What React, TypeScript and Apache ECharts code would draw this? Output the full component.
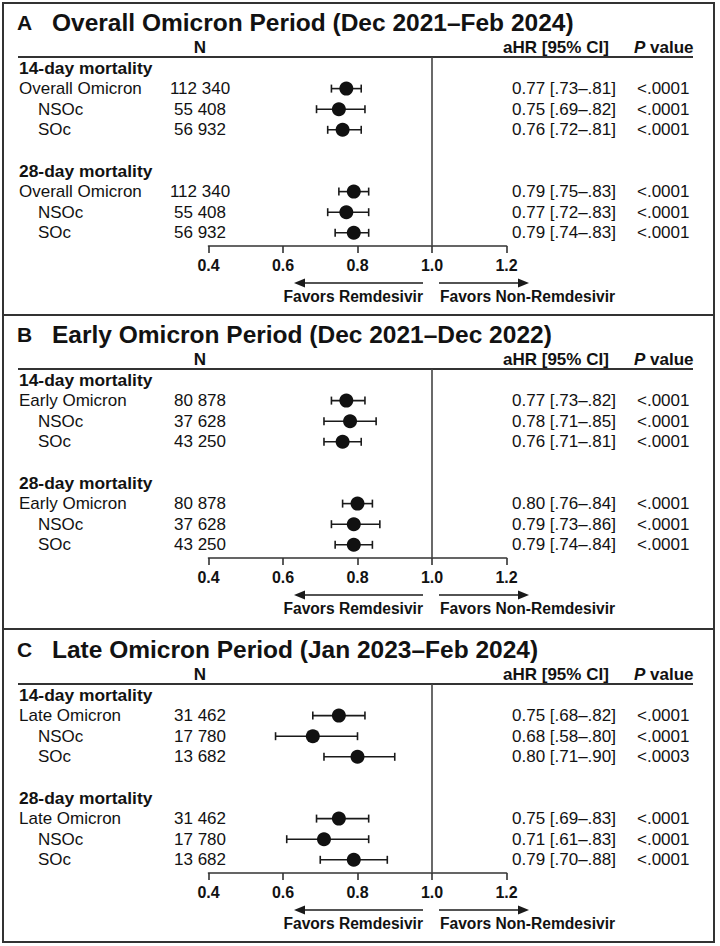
import React, { useEffect, useRef } from "react";
import * as echarts from "echarts";

// ---------- DATA ----------
const panelLetters = ["A", "B", "C"];
const panelTitles = [
  "Overall Omicron Period (Dec 2021–Feb 2024)",
  "Early Omicron Period (Dec 2021–Dec 2022)",
  "Late Omicron Period (Jan 2023–Feb 2024)",
];
const groupLabels = ["14-day mortality", "28-day mortality"];
const rowLabels = [
  ["Overall Omicron", "NSOc", "SOc"],
  ["Early Omicron", "NSOc", "SOc"],
  ["Late Omicron", "NSOc", "SOc"],
];
const nValues = [
  ["112 340", "55 408", "56 932"],
  ["80 878", "37 628", "43 250"],
  ["31 462", "17 780", "13 682"],
];
const hr14 = [[0.77, 0.75, 0.76], [0.77, 0.78, 0.76], [0.75, 0.68, 0.80]];
const lo14 = [[0.73, 0.69, 0.72], [0.73, 0.71, 0.71], [0.68, 0.58, 0.71]];
const hi14 = [[0.81, 0.82, 0.81], [0.82, 0.85, 0.81], [0.82, 0.80, 0.90]];
const p14 = [
  ["<.0001", "<.0001", "<.0001"],
  ["<.0001", "<.0001", "<.0001"],
  ["<.0001", "<.0001", "<.0003"],
];
const hr28 = [[0.79, 0.77, 0.79], [0.80, 0.79, 0.79], [0.75, 0.71, 0.79]];
const lo28 = [[0.75, 0.72, 0.74], [0.76, 0.73, 0.74], [0.69, 0.61, 0.70]];
const hi28 = [[0.83, 0.83, 0.83], [0.84, 0.86, 0.84], [0.83, 0.83, 0.88]];
const p28 = [
  ["<.0001", "<.0001", "<.0001"],
  ["<.0001", "<.0001", "<.0001"],
  ["<.0001", "<.0001", "<.0001"],
];
const xMin = 0.4;
const xMax = 1.2;
const xStep = 0.2;
const refLine = 1.0;
const favorsLeft = "Favors Remdesivir";
const favorsRight = "Favors Non-Remdesivir";

// ---------- LAYOUT ----------
const FONT = "'Liberation Sans', Arial, sans-serif";
const OFF = [0, 312, 627];
const BORDERS = [3, 315, 629, 942];
const ROW0 = 68;
const ROW_H = 20.6;
const UNDERLINE = 57;
const AXIS_Y = 246;
const GRID_L = 208.5;
const GRID_W = 298;
const INK = "#121212";

const fmt = (v: number) => v.toFixed(2).replace(/^0/, "");
const ciText = (h: number, l: number, u: number) => `${h.toFixed(2)} [${fmt(l)}–${fmt(u)}]`;

function txt(text: string, x: number, y: number, size: number, weight: string, align = "left", extra: any = {}) {
  return {
    type: "text",
    silent: true,
    style: {
      text, x, y,
      fontSize: size, fontWeight: weight, fontFamily: FONT,
      fill: INK,
      align, textAlign: align,
      verticalAlign: "middle", textVerticalAlign: "middle",
      ...extra,
    },
  };
}

function buildOption() {
  const grids: any[] = [];
  const xAxes: any[] = [];
  const yAxes: any[] = [];
  const series: any[] = [];
  const graphics: any[] = [];

  for (let p = 0; p < 3; p++) {
    const o = OFF[p];
    const top = UNDERLINE + o;
    const h = AXIS_Y - UNDERLINE;
    grids.push({ left: GRID_L, top, width: GRID_W, height: h });
    xAxes.push({
      type: "value", gridIndex: p, min: xMin, max: xMax, interval: xStep,
      axisLine: { show: true, onZero: false, lineStyle: { color: "#333", width: 1.6 } },
      axisTick: { show: true, length: 7, lineStyle: { color: "#333", width: 1.6 } },
      splitLine: { show: false },
      axisLabel: {
        fontSize: 16, fontWeight: "bold", fontFamily: FONT, color: INK, margin: 11,
        formatter: (v: number) => v.toFixed(1),
      },
    });
    const yMin = (UNDERLINE - ROW0) / ROW_H;
    const yMax = (AXIS_Y - ROW0) / ROW_H;
    yAxes.push({
      type: "value", gridIndex: p, inverse: true, min: yMin, max: yMax, show: false,
    });

    const whisk: any[] = [];
    const dots: any[] = [];
    for (let i = 0; i < 3; i++) {
      whisk.push([lo14[p][i], hi14[p][i], 1 + i]);
      dots.push([hr14[p][i], 1 + i]);
      whisk.push([lo28[p][i], hi28[p][i], 6 + i]);
      dots.push([hr28[p][i], 6 + i]);
    }
    series.push({
      type: "custom", xAxisIndex: p, yAxisIndex: p, silent: true, z: 3,
      encode: { x: [0, 1], y: 2 },
      data: whisk,
      renderItem: (params: any, api: any) => {
        const a = api.coord([api.value(0), api.value(2)]);
        const b = api.coord([api.value(1), api.value(2)]);
        const c = 4;
        const st = { stroke: "#1a1a1a", lineWidth: 1.6 };
        return {
          type: "group",
          children: [
            { type: "line", shape: { x1: a[0], y1: a[1], x2: b[0], y2: b[1] }, style: st },
            { type: "line", shape: { x1: a[0], y1: a[1] - c, x2: a[0], y2: a[1] + c }, style: st },
            { type: "line", shape: { x1: b[0], y1: b[1] - c, x2: b[0], y2: b[1] + c }, style: st },
          ],
        };
      },
    });
    series.push({
      type: "scatter", xAxisIndex: p, yAxisIndex: p, silent: true, z: 5,
      symbol: "circle", symbolSize: 14,
      itemStyle: { color: "#111", opacity: 1 },
      data: dots,
      markLine: {
        silent: true, symbol: "none", animation: false,
        label: { show: false },
        lineStyle: { color: "#444", width: 1.6, type: "solid" },
        data: [{ xAxis: refLine }],
      },
    });

    // border
    graphics.push({
      type: "rect", silent: true,
      shape: { x: 3, y: BORDERS[p], width: 711, height: BORDERS[p + 1] - BORDERS[p] },
      style: { fill: "none", stroke: "#333", lineWidth: 2 },
    });
    // title
    graphics.push(txt(panelLetters[p], 17, 22 + o, 21, "bold"));
    graphics.push(txt(panelTitles[p], 52, 22 + o, 24.5, "bold"));
    // headers
    graphics.push(txt("N", 200, 47 + o, 17, "bold", "center"));
    graphics.push(txt("aHR [95% CI]", 503, 47 + o, 17, "bold"));
    graphics.push({
      type: "text", silent: true,
      style: {
        text: "{i|P} {b|value}", x: 634, y: 47 + o,
        align: "left", textAlign: "left", verticalAlign: "middle", textVerticalAlign: "middle",
        fontSize: 17, fontFamily: FONT, fontWeight: "bold", fill: INK,
        rich: {
          i: { fontSize: 17, fontFamily: FONT, fontWeight: "bold", fontStyle: "italic", fill: INK },
          b: { fontSize: 17, fontFamily: FONT, fontWeight: "bold", fill: INK },
        },
      },
    });
    graphics.push({
      type: "line", silent: true,
      shape: { x1: 18, y1: UNDERLINE + o, x2: 693, y2: UNDERLINE + o },
      style: { stroke: "#333", lineWidth: 2 },
    });
    // rows
    const groups = [
      { start: 0, hr: hr14, lo: lo14, hi: hi14, pv: p14 },
      { start: 5, hr: hr28, lo: lo28, hi: hi28, pv: p28 },
    ];
    groups.forEach((g, gi) => {
      graphics.push(txt(groupLabels[gi], 19, ROW0 + o + ROW_H * g.start, 17.4, "bold"));
      for (let i = 0; i < 3; i++) {
        const y = ROW0 + o + ROW_H * (g.start + 1 + i);
        graphics.push(txt(rowLabels[p][i], i === 0 ? 19 : 38, y, 17, "normal"));
        graphics.push(txt(nValues[p][i], 200, y, 17, "normal", "center"));
        graphics.push(txt(ciText(g.hr[p][i], g.lo[p][i], g.hi[p][i]), 512, y, 17, "normal"));
        graphics.push(txt(g.pv[p][i], 637, y, 17, "normal"));
      }
    });
    // arrows
    const ay = 283 + o;
    const ast = { stroke: "#1a1a1a", lineWidth: 1.6 };
    graphics.push({ type: "line", silent: true, shape: { x1: 423, y1: ay, x2: 300, y2: ay }, style: ast });
    graphics.push({
      type: "polygon", silent: true,
      shape: { points: [[294, ay], [305, ay - 4.5], [305, ay + 4.5]] },
      style: { fill: "#1a1a1a" },
    });
    graphics.push({ type: "line", silent: true, shape: { x1: 439, y1: ay, x2: 522, y2: ay }, style: ast });
    graphics.push({
      type: "polygon", silent: true,
      shape: { points: [[529, ay], [518, ay - 4.5], [518, ay + 4.5]] },
      style: { fill: "#1a1a1a" },
    });
    graphics.push(txt(favorsLeft, 423, 296 + o, 15.6, "bold", "right"));
    graphics.push(txt(favorsRight, 440, 296 + o, 15.6, "bold", "left"));
  }

  return {
    animation: false,
    backgroundColor: "#ffffff",
    grid: grids,
    xAxis: xAxes,
    yAxis: yAxes,
    series,
    graphic: { elements: graphics },
  };
}

export default function App() {
  const ref = useRef<HTMLDivElement>(null);
  useEffect(() => {
    if (!ref.current) return;
    const chart = echarts.init(ref.current, undefined, { renderer: "svg" });
    chart.setOption(buildOption() as any);
    return () => chart.dispose();
  }, []);
  return (
    <div
      ref={ref}
      style={{ position: "absolute", left: 0, top: 0, width: 720, height: 946, background: "#fff" }}
    />
  );
}
